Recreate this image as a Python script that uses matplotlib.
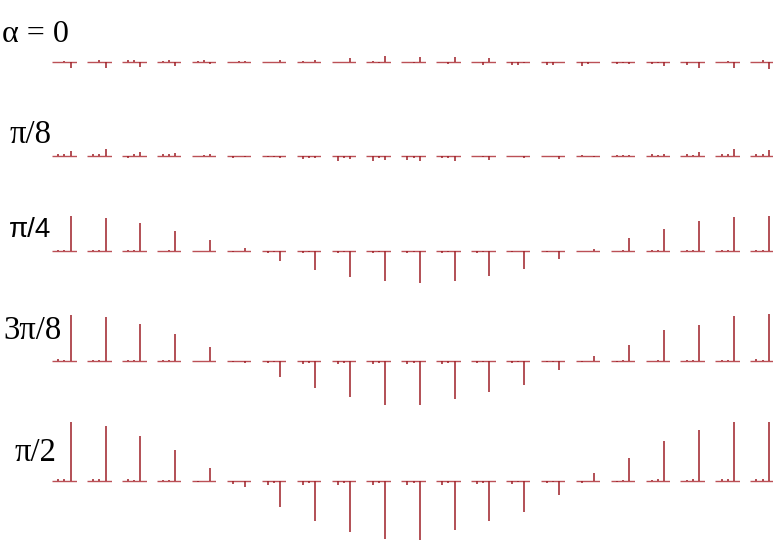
import numpy as np
import matplotlib.pyplot as plt

# stem amplitudes (arbitrary units, 60 ~ full scale)
# one row per alpha, three stems per panel, 21 panels per row
row_labels = ["α = 0", "π/8", "π/4", "3π/8", "π/2"]
stem_pos = [1, 2, 3]

a0_s1 = [0, 0, 2, 1, 1, 0, 0, 1, 0, 1, 0, 0, 0, -3, -3, -4, -2, -2, -3, 0, 0]
a0_s2 = [1, 2, 2, 2, 2, 1, 0, 0, 0, -1, -1, -2, -3, -3, -3, -2, -1, -1, 0, 1, 2]
a0_s3 = [-6, -6, -5, -4, -2, 1, 2, 2, 4, 6, 5, 5, 4, -1, 0, 0, -2, -4, -6, -6, -7]

a1_s1 = [2, 2, -2, 2, 0, -2, -1, -3, -5, -5, -4, -2, 0, 0, 0, 1, 1, 2, 2, 2, 2]
a1_s2 = [2, 2, 2, 2, 1, 0, -1, -2, -2, -2, -2, -2, -1, 0, 0, 0, 1, 1, 1, 2, 2]
a1_s3 = [5, 7, 4, 3, 2, -1, -2, -2, -3, -4, -5, -5, -4, -2, -3, -1, 1, 2, 4, 7, 6]

a2_s1 = [1, 1, 1, 0, 0, -1, -2, -2, -2, -2, -2, -2, -2, -1, -1, 0, 0, 1, 1, 1, 1]
a2_s2 = [1, 1, 1, 1, 0, 0, -1, -1, -1, -1, -1, -1, -1, 0, 0, 0, 1, 1, 1, 1, 1]
a2_s3 = [35, 33, 28, 20, 11, 3, -10, -19, -26, -30, -32, -30, -25, -18, -8, 2, 13, 22, 30, 34, 35]

a3_s1 = [2, 1, 1, 1, 0, -1, -2, -3, -3, -3, -3, -3, -2, -2, -1, -1, -1, 0, 1, 1, 2]
a3_s2 = [1, 1, 1, 1, 0, 0, -1, -2, -2, -2, -2, -2, -1, -1, -1, 0, 1, 1, 1, 1, 1]
a3_s3 = [46, 44, 37, 27, 14, -2, -16, -27, -36, -44, -44, -38, -31, -24, -9, 5, 16, 31, 36, 45, 47]

a4_s1 = [2, 2, 2, 1, -1, -3, -4, -4, -4, -4, -4, -4, -3, -3, -2, -2, -1, 1, 1, 2, 2]
a4_s2 = [2, 2, 1, 1, 0, 0, -2, -2, -2, -2, -2, -2, -2, -1, -1, 0, 1, 2, 2, 2, 2]
a4_s3 = [59, 55, 45, 31, 13, -6, -26, -40, -51, -58, -59, -49, -40, -31, -14, 8, 23, 40, 51, 59, 59]

rows = [
    (a0_s1, a0_s2, a0_s3),
    (a1_s1, a1_s2, a1_s3),
    (a2_s1, a2_s2, a2_s3),
    (a3_s1, a3_s2, a3_s3),
    (a4_s1, a4_s2, a4_s3),
]

# layout (pixels)
W, H = 773, 545
baseline_y = [61.5, 156, 251, 361, 481]
x0, dx, pw = 52.3, 34.9, 24.4
half_h = 70
label_xy = [(2, 34), (10, 135), (9, 230), (3, 331), (15, 453)]
label_family = ["Liberation Serif", "Liberation Serif", "Liberation Sans",
                "Liberation Serif", "Liberation Serif"]
label_size = [23, 23.5, 20, 23.5, 23.5]

stem_color = "#9e1f27"
base_color = "#bb5056"

fig = plt.figure(figsize=(W / 100, H / 100), dpi=100)

for r, (s1, s2, s3) in enumerate(rows):
    amps = np.array([s1, s2, s3])
    for c in range(amps.shape[1]):
        left = (x0 + c * dx) / W
        bottom = (H - baseline_y[r] - half_h) / H
        ax = fig.add_axes([left, bottom, pw / W, 2 * half_h / H])
        ax.hlines(0, 0, 4, color=base_color, lw=1.0)
        ax.vlines(stem_pos, 0, amps[:, c], color=stem_color, lw=1.1)
        ax.set_xlim(0, 4)
        ax.set_ylim(-half_h, half_h)
        ax.axis("off")

for lab, (lx, ly), fam, fs in zip(row_labels, label_xy, label_family, label_size):
    fig.text(lx / W, 1 - ly / H, lab, fontsize=fs, family=fam,
             ha="left", va="center")

fig.savefig("out.png", dpi=100)
